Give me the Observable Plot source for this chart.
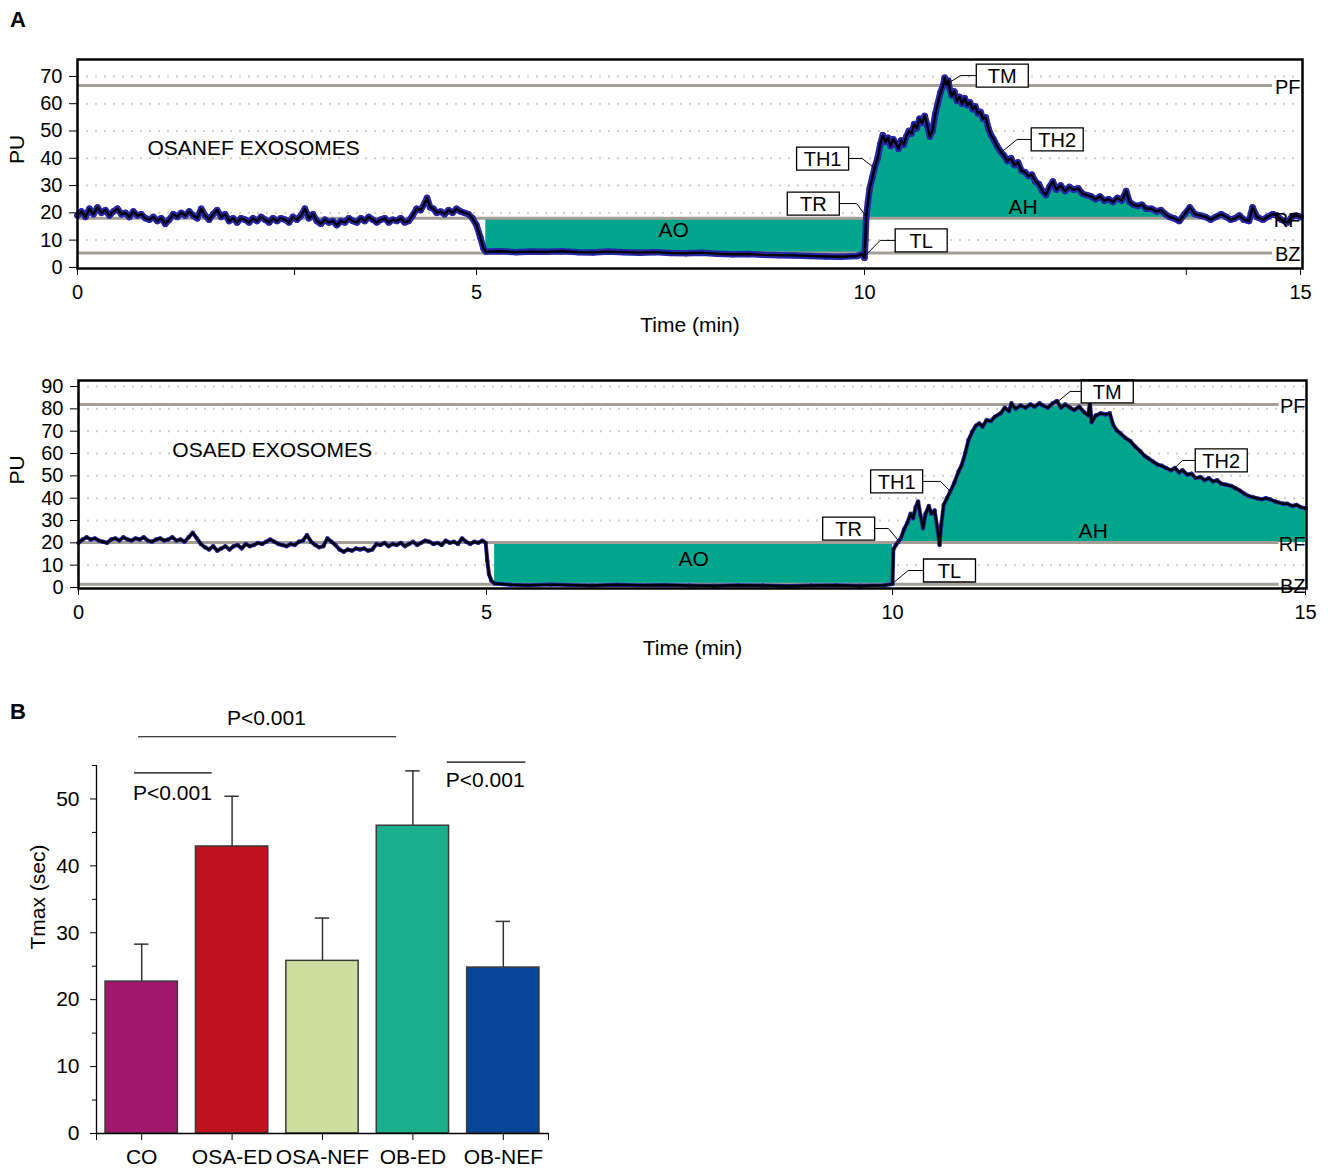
<!DOCTYPE html>
<html><head><meta charset="utf-8">
<script src="https://cdn.jsdelivr.net/npm/d3@7"></script>
<script src="https://cdn.jsdelivr.net/npm/@observablehq/plot@0.6"></script>
<style>
body{margin:0;background:#fff;}
#root{position:relative;width:1328px;height:1169px;background:#fff;font-family:"Liberation Sans",Arial,Helvetica,sans-serif;overflow:hidden}
.panel{position:absolute;left:0}
.letter{position:absolute;left:10px;font-weight:bold;font-size:22px;line-height:22px}
</style></head><body><div id="root"></div>
<script>
// ---------- Panel A (top): OSANEF exosomes, [time (min), PU] ----------
const osanefTrace = [
[0.00,19.0],[0.05,20.5],[0.10,18.5],[0.15,21.5],[0.20,19.5],[0.25,22.0],[0.30,20.0],[0.35,21.0],[0.40,19.0],[0.45,20.5],
[0.50,21.5],[0.55,19.5],[0.60,20.0],[0.65,18.5],[0.70,20.5],[0.75,19.0],[0.80,19.5],[0.85,18.0],[0.90,17.5],[0.95,18.5],
[1.00,17.0],[1.05,18.0],[1.10,16.0],[1.15,17.5],[1.20,19.5],[1.25,18.5],[1.30,20.0],[1.35,19.0],[1.40,20.5],[1.45,19.0],
[1.50,18.0],[1.55,21.5],[1.60,19.0],[1.65,17.5],[1.70,19.5],[1.75,21.0],[1.80,18.5],[1.85,19.5],[1.90,17.0],[1.95,18.0],
[2.00,16.5],[2.05,18.0],[2.10,17.5],[2.15,16.5],[2.20,18.0],[2.25,17.0],[2.30,18.5],[2.35,17.5],[2.40,16.5],[2.45,18.0],
[2.50,17.0],[2.55,18.0],[2.60,17.5],[2.65,16.5],[2.70,18.5],[2.75,17.5],[2.80,19.0],[2.85,21.5],[2.90,18.0],[2.95,19.5],
[3.00,17.0],[3.05,16.0],[3.10,17.5],[3.15,16.5],[3.20,17.0],[3.25,15.5],[3.30,17.0],[3.35,16.5],[3.40,18.0],[3.45,17.0],
[3.50,16.5],[3.55,18.0],[3.60,17.0],[3.65,18.5],[3.70,17.5],[3.75,16.5],[3.80,17.5],[3.85,18.0],[3.90,16.5],[3.95,17.5],
[4.00,17.0],[4.05,18.0],[4.10,16.5],[4.15,17.0],[4.20,19.0],[4.25,21.5],[4.30,21.0],[4.35,23.5],[4.38,25.5],[4.42,22.0],
[4.46,21.5],[4.50,20.0],[4.55,20.5],[4.60,19.5],[4.65,21.0],[4.70,20.0],[4.75,21.5],[4.80,20.5],[4.85,20.0],[4.90,19.5],
[4.95,18.0],[5.00,15.5],[5.05,11.0],[5.09,7.0],[5.12,5.8],
[5.30,5.9],[5.50,5.6],[5.70,5.8],[5.90,5.7],[6.10,5.9],[6.30,5.6],[6.50,5.5],[6.70,5.8],[6.90,5.6],[7.10,5.4],
[7.30,5.6],[7.50,5.3],[7.70,5.2],[7.90,5.4],[8.10,5.0],[8.30,4.8],[8.50,4.9],[8.70,4.6],[8.90,4.5],[9.10,4.4],
[9.30,4.2],[9.50,4.0],[9.70,3.9],[9.90,4.2],[9.97,4.8],[10.00,3.5],
[10.01,10.0],[10.02,18.5],[10.04,24.0],[10.06,29.0],[10.09,33.0],[10.12,37.0],[10.15,40.0],[10.18,45.0],[10.21,48.5],[10.24,46.0],
[10.27,47.5],[10.30,44.5],[10.33,47.0],[10.36,45.5],[10.39,43.5],[10.42,46.5],[10.45,45.0],[10.48,48.0],[10.51,50.0],[10.54,49.0],
[10.57,52.5],[10.60,51.0],[10.63,54.5],[10.66,53.0],[10.69,55.5],[10.72,52.0],[10.75,48.0],[10.78,50.0],[10.81,56.0],[10.84,60.0],
[10.87,64.0],[10.90,66.5],[10.92,69.5],[10.94,67.0],[10.96,68.5],[10.98,65.0],[11.00,63.0],[11.03,64.5],[11.06,61.0],[11.09,62.5],
[11.12,60.0],[11.15,62.0],[11.18,59.5],[11.21,60.5],[11.24,58.0],[11.27,59.0],[11.30,56.5],[11.33,57.0],[11.36,54.5],[11.39,55.0],
[11.42,51.0],[11.45,48.5],[11.48,47.0],[11.52,44.5],[11.56,42.5],[11.60,41.0],[11.64,39.0],[11.68,40.0],[11.72,37.5],[11.76,38.5],
[11.80,35.5],[11.84,35.0],[11.88,33.5],[11.92,34.0],[11.96,31.5],[12.00,30.5],[12.04,28.0],[12.08,26.5],[12.12,29.5],[12.16,31.5],
[12.20,28.5],[12.25,30.0],[12.30,28.0],[12.35,29.5],[12.40,28.5],[12.45,29.0],[12.50,27.0],[12.55,26.5],[12.60,26.0],[12.65,25.0],
[12.70,26.0],[12.75,24.5],[12.80,25.0],[12.85,24.0],[12.90,25.5],[12.95,24.5],[13.00,28.0],[13.04,24.0],[13.08,23.0],[13.13,22.5],
[13.18,23.0],[13.23,21.5],[13.29,21.5],[13.35,20.5],[13.40,21.0],[13.45,19.5],[13.50,18.5],[13.55,18.0],[13.61,17.0],[13.67,19.5],
[13.73,22.0],[13.79,19.5],[13.85,19.0],[13.91,18.5],[13.97,17.5],[14.03,18.5],[14.09,19.5],[14.15,18.5],[14.20,17.5],[14.25,18.0],
[14.30,19.0],[14.35,17.5],[14.41,17.0],[14.45,22.0],[14.50,18.5],[14.57,17.5],[14.62,18.5],[14.68,19.5],[14.73,19.0],[14.78,17.5],
[14.85,16.5],[14.90,18.5],[14.95,19.0],[15.00,18.5]
];
const osanefRefs = [{label:"PF", v:66.7},{label:"RF", v:18.0},{label:"BZ", v:5.3}];
const osanefBoxes = [
  {label:"TM", t:11.58, v:70.3},{label:"TH1", t:9.46, v:39.9},{label:"TH2", t:12.21, v:46.9},
  {label:"TR", t:9.34, v:23.4},{label:"TL", t:10.65, v:9.9}
];
const osanefLeaders = [
  {label:"TM", t:11.28, v:70.3},{label:"TM", t:11.10, v:70.3},{label:"TM", t:10.96, v:67.5},
  {label:"TH1", t:9.79, v:39.9},{label:"TH1", t:9.97, v:39.9},{label:"TH1", t:10.11, v:36.5},
  {label:"TH2", t:11.92, v:46.9},{label:"TH2", t:11.75, v:46.9},{label:"TH2", t:11.58, v:42.5},
  {label:"TR", t:9.68, v:23.4},{label:"TR", t:9.90, v:23.4},{label:"TR", t:10.01, v:19.0},
  {label:"TL", t:10.36, v:9.9},{label:"TL", t:10.18, v:9.9},{label:"TL", t:10.00, v:4.0}
];
const osanefTitle = [{text:"OSANEF EXOSOMES", t:0.877, v:43.6}];
const osanefAreaLabels = [{text:"AO", t:7.54, v:13.6},{text:"AH", t:11.82, v:22.0}];
const osanefYTicks = [0,10,20,30,40,50,60,70];
const osanefGrid = [10,20,30,40,50,60,70];
const osanefXTicks = [0,2.72,5,10,13.69,15];

// ---------- Panel A (bottom): OSAED exosomes ----------
const osaedTrace = [
[0.00,20.0],[0.05,21.5],[0.10,22.5],[0.15,21.5],[0.20,22.0],[0.25,21.0],[0.30,20.5],[0.35,20.0],[0.40,21.5],[0.45,22.0],
[0.50,21.0],[0.55,22.5],[0.60,21.5],[0.65,21.0],[0.70,22.0],[0.75,21.5],[0.80,22.5],[0.85,21.0],[0.90,20.5],[0.95,21.5],
[1.00,22.0],[1.05,21.0],[1.10,21.5],[1.15,22.5],[1.20,21.0],[1.25,21.5],[1.30,20.5],[1.35,22.5],[1.40,24.5],[1.45,22.0],
[1.50,19.5],[1.55,18.0],[1.60,17.0],[1.65,18.5],[1.70,16.5],[1.75,17.5],[1.80,18.5],[1.85,17.0],[1.90,18.5],[1.95,19.0],
[2.00,17.5],[2.05,19.5],[2.10,18.5],[2.15,19.0],[2.20,20.0],[2.25,19.5],[2.30,20.5],[2.35,21.5],[2.40,20.5],[2.45,19.5],
[2.50,19.0],[2.55,18.5],[2.60,19.5],[2.65,19.0],[2.70,20.5],[2.75,21.0],[2.80,23.5],[2.85,20.5],[2.90,19.0],[2.95,18.0],
[3.00,18.5],[3.05,22.0],[3.10,20.5],[3.15,19.0],[3.20,17.0],[3.25,16.0],[3.30,17.0],[3.35,16.5],[3.40,17.5],[3.45,17.0],
[3.50,17.5],[3.55,16.5],[3.60,17.0],[3.65,19.5],[3.70,19.0],[3.75,20.0],[3.80,18.5],[3.85,19.5],[3.90,19.0],[3.95,20.0],
[4.00,18.5],[4.05,19.5],[4.10,20.5],[4.15,19.0],[4.20,20.0],[4.25,21.0],[4.30,20.5],[4.35,19.5],[4.40,20.0],[4.45,19.0],
[4.50,21.0],[4.55,20.0],[4.60,20.5],[4.65,19.5],[4.70,22.0],[4.75,20.5],[4.80,19.5],[4.85,20.5],[4.90,20.0],[4.95,21.0],
[4.99,20.0],[5.01,12.0],[5.03,6.0],[5.06,3.0],[5.10,1.8],
[5.30,1.2],[5.50,1.0],[5.80,1.3],[6.00,1.1],[6.30,0.9],[6.60,1.2],[6.90,1.0],[7.20,1.1],[7.50,0.9],[7.80,0.8],
[8.10,1.0],[8.40,0.9],[8.70,0.7],[9.00,0.9],[9.30,1.0],[9.60,0.8],[9.90,1.0],[10.00,1.6],
[10.01,17.0],[10.04,19.0],[10.07,20.5],[10.10,22.0],[10.14,26.0],[10.18,29.0],[10.22,33.0],[10.25,31.0],[10.28,36.0],[10.31,38.5],
[10.34,32.0],[10.37,26.5],[10.40,33.0],[10.44,36.5],[10.47,33.0],[10.51,34.5],[10.55,25.0],[10.57,19.0],[10.59,28.0],[10.62,37.0],
[10.66,40.0],[10.70,43.0],[10.75,47.0],[10.80,52.0],[10.84,55.0],[10.88,60.0],[10.92,66.0],[10.97,70.0],[11.01,72.5],[11.05,73.5],
[11.09,72.0],[11.14,75.0],[11.19,74.5],[11.24,76.5],[11.31,78.0],[11.36,80.5],[11.41,79.0],[11.44,82.5],[11.49,80.0],[11.55,81.5],
[11.61,80.5],[11.67,82.0],[11.72,81.0],[11.78,82.5],[11.82,81.5],[11.88,80.5],[11.94,82.5],[11.99,83.5],[12.04,80.5],[12.09,82.0],
[12.15,80.5],[12.20,79.5],[12.26,81.0],[12.32,78.5],[12.37,77.0],[12.39,83.0],[12.41,74.0],[12.46,77.0],[12.52,78.0],[12.58,77.5],
[12.63,78.0],[12.67,73.0],[12.71,70.5],[12.76,69.0],[12.82,67.0],[12.88,65.5],[12.94,63.0],[13.00,61.0],[13.05,59.0],[13.09,58.0],
[13.15,56.5],[13.21,55.0],[13.26,54.5],[13.31,53.5],[13.37,52.5],[13.42,53.5],[13.47,51.5],[13.51,52.5],[13.57,50.5],[13.62,51.0],
[13.67,49.0],[13.73,49.5],[13.78,48.0],[13.83,49.0],[13.88,47.5],[13.93,48.0],[13.98,46.5],[14.04,46.0],[14.10,45.5],[14.15,44.5],
[14.20,43.5],[14.26,42.0],[14.31,41.0],[14.36,40.5],[14.41,40.0],[14.47,39.5],[14.52,40.0],[14.57,39.5],[14.63,38.5],[14.68,38.0],
[14.73,37.5],[14.78,37.5],[14.84,36.5],[14.89,37.0],[14.94,36.0],[15.00,35.5]
];
const osaedRefs = [{label:"PF", v:82.0},{label:"RF", v:20.2},{label:"BZ", v:1.4}];
const osaedBoxes = [
  {label:"TM", t:12.60, v:87.8},{label:"TH1", t:10.05, v:47.5},{label:"TH2", t:13.98, v:56.9},
  {label:"TR", t:9.46, v:26.4},{label:"TL", t:10.69, v:7.6}
];
const osaedLeaders = [
  {label:"TM", t:12.29, v:87.8},{label:"TM", t:12.15, v:87.8},{label:"TM", t:12.01, v:83.5},
  {label:"TH1", t:10.36, v:47.5},{label:"TH1", t:10.58, v:47.5},{label:"TH1", t:10.70, v:43.0},
  {label:"TH2", t:13.67, v:56.9},{label:"TH2", t:13.51, v:56.9},{label:"TH2", t:13.39, v:52.5},
  {label:"TR", t:9.78, v:26.4},{label:"TR", t:9.95, v:26.4},{label:"TR", t:10.08, v:20.6},
  {label:"TL", t:10.38, v:7.6},{label:"TL", t:10.19, v:7.6},{label:"TL", t:10.00, v:1.8}
];
const osaedTitle = [{text:"OSAED EXOSOMES", t:1.15, v:61.4}];
const osaedAreaLabels = [{text:"AO", t:7.55, v:12.5},{text:"AH", t:12.43, v:25.1}];
const osaedYTicks = [0,10,20,30,40,50,60,70,80,90];
const osaedGrid = [10,20,30,40,50,60,70,80,90];
const osaedXTicks = [0,5,10,15];

// ---------- Panel B: Tmax bars ----------
const groups = ["CO","OSA-ED","OSA-NEF","OB-ED","OB-NEF"];
const tmaxMean = [22.7, 42.9, 25.8, 46.0, 24.8];
const tmaxSem  = [5.6, 7.5, 6.4, 8.2, 6.9];
const barColors = ["#a1176b","#be1220","#cddf9f","#1aae8c","#044597"];
const sigMarks = [
  {x1:-0.035, x2:2.82, y:59.3, tx:1.38, ty:62.1, text:"P<0.001"},
  {x1:-0.08, x2:0.78, y:53.9, tx:0.34, ty:50.9, text:"P<0.001"},
  {x1:3.38, x2:4.25, y:55.5, tx:3.80, ty:52.8, text:"P<0.001"}
];

// ---------- drawing ----------
const FONT = "Liberation Sans, Arial, Helvetica, sans-serif";
const TEAL = "#00a68b";
const BLUE = "#2626a8";
const boxSymbol = {draw(ctx){ctx.moveTo(-26,-11.5);ctx.lineTo(26,-11.5);ctx.lineTo(26,11.5);ctx.lineTo(-26,11.5);ctx.closePath();}};
const root = document.getElementById("root");

function tracePanel(cfg){
  const data = cfg.trace.map(([t,v]) => ({t, v}));
  const rf = cfg.refs.find(r => r.label === "RF").v;
  const ao = data.filter(d => d.t >= cfg.aoStart && d.t <= 10.0);
  const ah = data.filter(d => d.t >= 10.0);
  const major = [0,5,10,15];
  return Plot.plot({
    width: 1328, height: 310,
    marginLeft: cfg.ml, marginRight: cfg.mr, marginTop: cfg.mt, marginBottom: 82,
    x: {type: "linear", domain: [0,5,10,15], range: cfg.xRange},
    y: {domain: cfg.yDomain},
    style: {fontFamily: FONT, fontSize: "20px", background: "white", overflow: "visible"},
    marks: [
      Plot.ruleY(cfg.grid, {x1: 0, x2: 15, stroke: "#cfcec2", strokeWidth: 2, strokeDasharray: "2 7"}),
      Plot.areaY(ao, {x: "t", y1: "v", y2: () => rf, fill: TEAL}),
      Plot.areaY(ah, {x: "t", y1: () => rf, y2: d => Math.max(d.v, rf), fill: TEAL}),
      Plot.ruleY(cfg.refs, {y: "v", x1: 0, x2: 14.68, stroke: "#a39e96", strokeWidth: 3}),
      Plot.line(data, {x: "t", y: "v", stroke: BLUE, strokeWidth: cfg.halo, strokeLinejoin: "round"}),
      Plot.dot(data, {x: "t", y: "v", r: cfg.dotR, fill: BLUE, stroke: "none"}),
      Plot.line(data, {x: "t", y: "v", stroke: "#000", strokeWidth: 2.4, strokeLinejoin: "round"}),
      Plot.line(cfg.leaders, {x: "t", y: "v", z: "label", stroke: "#000", strokeWidth: 1}),
      Plot.dot(cfg.boxes, {x: "t", y: "v", symbol: boxSymbol, fill: "white", stroke: "#000", strokeWidth: 1.3}),
      Plot.text(cfg.boxes, {x: "t", y: "v", text: "label", fontSize: 20, dy: 1}),
      Plot.text(cfg.title, {x: "t", y: "v", text: "text", textAnchor: "start", fontSize: 21}),
      Plot.text(cfg.areaLabels, {x: "t", y: "v", text: "text", textAnchor: "middle", fontSize: 21}),
      Plot.text(cfg.refs, {x: () => 15, y: "v", text: "label", textAnchor: "end", fontSize: 20, dy: 2}),
      Plot.frame({stroke: "#000", strokeWidth: 2.5}),
      Plot.axisY({ticks: cfg.yTicks, tickSize: 8, tickPadding: 7, fontSize: 20, label: null}),
      Plot.axisX({ticks: cfg.xTicks, tickFormat: d => major.includes(d) ? String(d) : "", tickSize: 7, tickPadding: 9, fontSize: 20, label: null}),
      Plot.text(["PU"], {frameAnchor: "left", dx: cfg.puDx, rotate: -90, fontSize: 21}),
      Plot.text(["Time (min)"], {frameAnchor: "bottom", dy: cfg.timeDy, lineAnchor: "middle", fontSize: 21})
    ]
  });
}

const p1 = tracePanel({
  trace: osanefTrace, refs: osanefRefs, boxes: osanefBoxes, leaders: osanefLeaders,
  title: osanefTitle, areaLabels: osanefAreaLabels,
  yTicks: osanefYTicks, grid: osanefGrid, xTicks: osanefXTicks, aoStart: 5.12,
  ml: 77, mr: 26, mt: 19, xRange: [77,476,864,1300], yDomain: [-0.4, 76.2], halo: 6.5, dotR: 3.2, puDx: -60, timeDy: 57
});
p1.classList.add("panel"); p1.style.top = "40px";
root.appendChild(p1);

const p2 = tracePanel({
  trace: osaedTrace, refs: osaedRefs, boxes: osaedBoxes, leaders: osaedLeaders,
  title: osaedTitle, areaLabels: osaedAreaLabels,
  yTicks: osaedYTicks, grid: osaedGrid, xTicks: osaedXTicks, aoStart: 5.10,
  ml: 78, mr: 22, mt: 20, xRange: [78,486,892,1305], yDomain: [-0.45, 92.7], halo: 4, dotR: 2.2, puDx: -61, timeDy: 60
});
p2.classList.add("panel"); p2.style.top = "360px";
root.appendChild(p2);

const bars = groups.map((g, i) => ({i, g, mean: tmaxMean[i], sem: tmaxSem[i], color: barColors[i]}));
const p3 = Plot.plot({
  width: 570, height: 479,
  marginLeft: 96, marginRight: 22, marginTop: 75, marginBottom: 36,
  x: {domain: [-0.5, 4.5]},
  y: {domain: [0, 55]},
  color: {type: "identity"},
  style: {fontFamily: FONT, fontSize: "21px", background: "white", overflow: "visible"},
  marks: [
    Plot.ruleX(bars, {x: "i", y1: "mean", y2: d => d.mean + d.sem, stroke: "#333", strokeWidth: 1.5}),
    Plot.ruleY(bars, {y: d => d.mean + d.sem, x1: d => d.i - 0.08, x2: d => d.i + 0.08, stroke: "#333", strokeWidth: 1.5}),
    Plot.rectY(bars, {x1: d => d.i - 0.4, x2: d => d.i + 0.4, y1: () => 0, y2: "mean", fill: "color", stroke: "#3a3a3a", strokeWidth: 1.5}),
    Plot.ruleX([-0.5], {y1: 0, y2: 55, stroke: "#000", strokeWidth: 1.3}),
    Plot.ruleY([0], {x1: -0.5, x2: 4.5, stroke: "#000", strokeWidth: 1.3}),
    Plot.ruleY(sigMarks, {y: "y", x1: "x1", x2: "x2", stroke: "#000", strokeWidth: 1.2}),
    Plot.text(sigMarks, {x: "tx", y: "ty", text: "text", fontSize: 21}),
    Plot.axisY({ticks: [0,10,20,30,40,50], tickSize: 6, tickPadding: 11, fontSize: 21, label: null}),
    Plot.axisY({ticks: [5,15,25,35,45,55], tickSize: 4, tickFormat: () => "", label: null}),
    Plot.axisX({ticks: [-0.5,0,1,2,3,4,4.5], tickFormat: d => groups[d] ?? "", tickSize: 7, tickPadding: 9, fontSize: 21, label: null}),
    Plot.text(["Tmax (sec)"], {frameAnchor: "left", dx: -58, rotate: -90, fontSize: 21})
  ]
});
p3.classList.add("panel"); p3.style.top = "690px";
root.appendChild(p3);

const la = document.createElement("div"); la.className = "letter"; la.style.top = "9px"; la.textContent = "A"; root.appendChild(la);
const lb = document.createElement("div"); lb.className = "letter"; lb.style.top = "701px"; lb.textContent = "B"; root.appendChild(lb);
</script></body></html>
